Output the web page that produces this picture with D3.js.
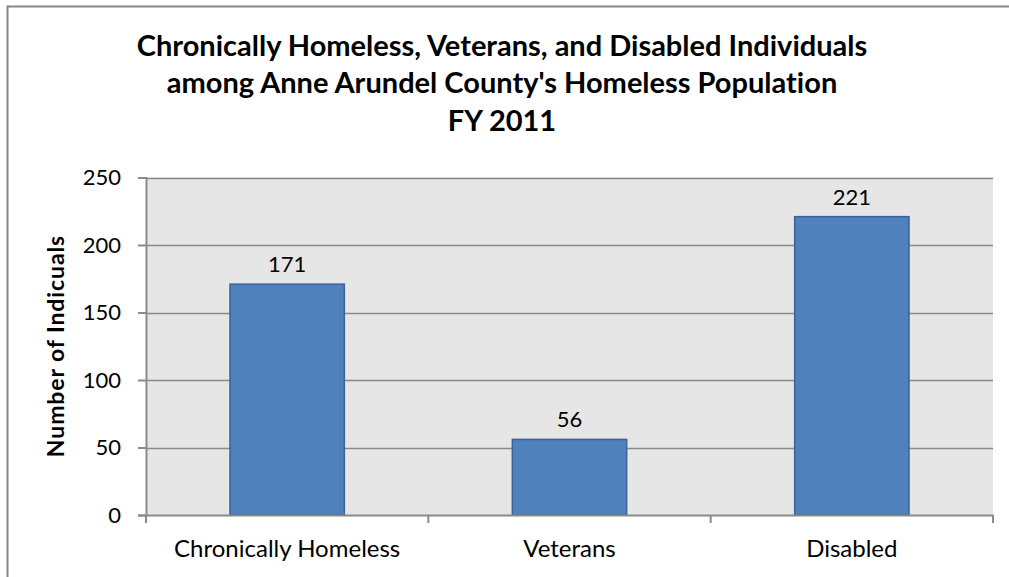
<!DOCTYPE html>
<html>
<head>
<meta charset="utf-8">
<script src="https://cdn.jsdelivr.net/npm/d3@7"></script>
<style>
  html, body { margin: 0; padding: 0; background: #fff; }
  svg { display: block; }
  text { font-family: Lato, "Open Sans", sans-serif; fill: #000; font-variant-ligatures: none; font-feature-settings: "liga" 0, "clig" 0; }
</style>
</head>
<body>
<svg id="chart" width="1009" height="577"></svg>
<script>
// Chart data
const categories = ["Chronically Homeless", "Veterans", "Disabled"];
const values = [171, 56, 221];
const yTicks = [0, 50, 100, 150, 200, 250];
const titleLines = [
  "Chronically Homeless, Veterans, and Disabled Individuals",
  "among Anne Arundel County's Homeless Population",
  "FY 2011"
];
const yAxisTitle = "Number of Indicuals";

const W = 1009, H = 577;
const plot = { left: 146, top: 177.5, right: 993, bottom: 515 };
const FONT = "Lato, 'Open Sans', sans-serif";

const svg = d3.select("#chart");

// chart frame
svg.append("rect")
  .attr("x", 7.5).attr("y", 6.5)
  .attr("width", W + 10).attr("height", H + 10)
  .attr("fill", "#fff").attr("stroke", "#868686").attr("stroke-width", 2);

const x = d3.scaleBand()
  .domain(categories)
  .range([plot.left, plot.right])
  .paddingInner(0).paddingOuter(0);

const y = d3.scaleLinear()
  .domain([0, 250])
  .range([plot.bottom, plot.top]);

// plot background
svg.append("rect")
  .attr("x", plot.left).attr("y", plot.top)
  .attr("width", plot.right - plot.left).attr("height", plot.bottom - plot.top)
  .attr("fill", "#e6e6e6");

// horizontal gridlines
svg.append("g")
  .selectAll("line")
  .data(yTicks.filter(d => d > 0))
  .join("line")
  .attr("x1", plot.left).attr("x2", plot.right)
  .attr("y1", d => Math.round(y(d)) + 0.5).attr("y2", d => Math.round(y(d)) + 0.5)
  .attr("stroke", "#8a8a8a").attr("stroke-width", 1.5);

// bars
const barW = x.bandwidth() * 0.405;
svg.append("g")
  .selectAll("rect")
  .data(values)
  .join("rect")
  .attr("x", (d, i) => x(categories[i]) + (x.bandwidth() - barW) / 2)
  .attr("y", d => y(d))
  .attr("width", barW)
  .attr("height", d => y(0) - y(d))
  .attr("fill", "#4f81bd")
  .attr("stroke", "#3a629a")
  .attr("stroke-width", 1.5);

// value labels
svg.append("g")
  .selectAll("text")
  .data(values)
  .join("text")
  .attr("x", (d, i) => x(categories[i]) + x.bandwidth() / 2)
  .attr("y", d => y(d) - 12)
  .attr("text-anchor", "middle")
  .attr("font-size", 22)
  .text(d => d);

// y axis
const yAxis = svg.append("g")
  .attr("transform", `translate(${plot.left},0)`)
  .call(d3.axisLeft(y).tickValues(yTicks).tickSize(8).tickPadding(17).tickFormat(d3.format("d")));
yAxis.attr("font-family", FONT).attr("font-size", 22);
yAxis.select(".domain").attr("stroke", "#8a8a8a").attr("stroke-width", 2);
yAxis.selectAll(".tick line").attr("stroke", "#8a8a8a").attr("stroke-width", 2);
yAxis.selectAll(".tick text").attr("fill", "#000");

// x axis
const xAxis = svg.append("g")
  .attr("transform", `translate(0,${plot.bottom})`)
  .call(d3.axisBottom(x).tickSize(0).tickPadding(0));
xAxis.attr("font-family", FONT).attr("font-size", 24);
xAxis.select(".domain").attr("stroke", "#8a8a8a").attr("stroke-width", 2);
xAxis.selectAll(".tick text").attr("fill", "#000").attr("dy", null).attr("y", 42);
// tick marks at category boundaries
const bounds = categories.map(c => x(c)).concat([plot.right]);
xAxis.selectAll(".bound")
  .data(bounds)
  .join("line")
  .attr("class", "bound")
  .attr("x1", d => d).attr("x2", d => d)
  .attr("y1", 0).attr("y2", 8)
  .attr("stroke", "#8a8a8a").attr("stroke-width", 2);

// y axis title
svg.append("text")
  .attr("transform", `translate(64,346) rotate(-90)`)
  .attr("text-anchor", "middle")
  .attr("font-size", 23)
  .attr("font-weight", "bold")
  .attr("letter-spacing", 0.9)
  .text(yAxisTitle);

// title
svg.append("g")
  .selectAll("text")
  .data(titleLines)
  .join("text")
  .attr("x", 502)
  .attr("y", (d, i) => 55.5 + i * 37.5)
  .attr("text-anchor", "middle")
  .attr("font-size", 29)
  .attr("font-weight", "bold")
  .text(d => d);
</script>
</body>
</html>
